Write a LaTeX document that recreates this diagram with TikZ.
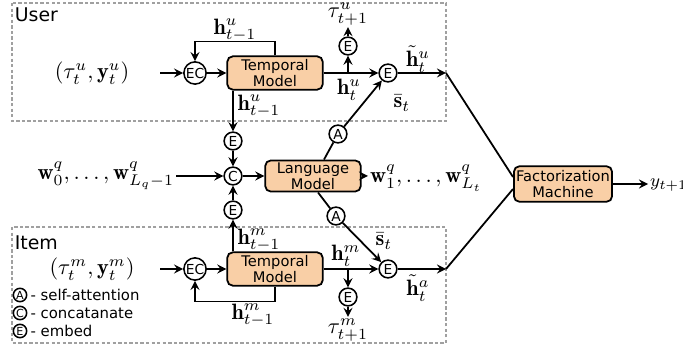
\documentclass[tikz,border=0pt]{standalone}
\usepackage{amsmath}
\usepackage{fontspec}
\setsansfont{DejaVu Sans}
\usepackage{tikz}
\usetikzlibrary{
    positioning,
    arrows.meta,
    calc
}
\definecolor{modelFill}{RGB}{249, 207, 166}
\definecolor{frameGray}{RGB}{160, 160, 160}

\begin{document}
\begin{tikzpicture}[x=0.45pt, y=-0.45pt, >=stealth, line width=0.8pt,
    model/.style={draw, rounded corners=2.5pt, fill=modelFill, align=center,
        font=\sffamily\fontsize{6.6}{7}\selectfont, inner sep=1pt,
        minimum width=43pt, minimum height=15pt},
    op/.style={draw, circle, line width=0.7pt, inner sep=0pt, minimum size=8pt,
        font=\sffamily\fontsize{6.2}{6.5}\selectfont},
    legop/.style={op, minimum size=6pt, font=\sffamily\fontsize{5}{5}\selectfont},
    legtext/.style={inner sep=0pt, font=\sffamily\fontsize{6.7}{7}\selectfont},
    lbl/.style={inner sep=0.5pt},
    region/.style={draw=frameGray, dash pattern=on 1.5pt off 1pt, line width=0.6pt}]
                \useasboundingbox (0,0) rectangle (683,349);
                
                % 枠 (User / Item)
                \draw[region] (12,3) rectangle (446,121);
                \draw[region] (12,227) rectangle (446,343);
                \node[anchor=west, inner sep=0pt, font=\sffamily\fontsize{8.5}{9}\selectfont] (userT) at (14,15) {User};
                \node[anchor=west, inner sep=0pt, font=\sffamily\fontsize{8.5}{9}\selectfont] (itemT) at (14,243) {Item};
                
                % User側
                \node[lbl] (inU) at (92,73) {$(\tau_t^u, \mathbf{y}_t^u)$};
                \coordinate (inUe) at (160,73);
                \node[op, minimum size=10pt] (ecU) at (195,73) {EC};
                \node[model] (tmU) at (275,73) {Temporal\\Model};
                \node[op] (ebU1) at (233,141) {E};
                \node[op] (ebU2) at (388,73) {E};
                \node[op] (ebU3) at (348,46) {E};
                \coordinate (brU) at (348,73);
                \coordinate (fu) at (446,73);
                \node[lbl] (tauU) at (348,14) {$\tau_{t+1}^u$};
                
                % 中央 (Language Model)
                \node[lbl, anchor=east] (inQ) at (176,176) {$\mathbf{w}_0^q, \ldots, \mathbf{w}_{L_q-1}^q$};
                \node[op] (cc) at (233,176) {C};
                \node[model, minimum height=14pt] (lm) at (313,176) {Language\\Model};
                \node[lbl, anchor=west] (outQ) at (368,178) {$\mathbf{w}_1^q, \ldots, \mathbf{w}_{L_t}^q$};
                \node[op] (atU) at (338,134) {A};
                \node[op] (atI) at (336,216) {A};
                \node[model, minimum width=44pt, minimum height=16pt] (fm) at (563,184) {Factorization\\Machine};
                \node[lbl, anchor=west, font=\fontsize{8.5}{9}\selectfont] (yout) at (648,185) {$y_{t+1}$};
                
                % Item側
                \node[lbl] (inI) at (92,269) {$(\tau_t^m, \mathbf{y}_t^m)$};
                \coordinate (inIe) at (160,269);
                \node[op, minimum size=10pt] (ecI) at (195,269) {EC};
                \node[model] (tmI) at (275,269) {Temporal\\Model};
                \node[op] (ebI1) at (233,210) {E};
                \node[op] (ebI2) at (388,269) {E};
                \node[op] (ebI3) at (348,297) {E};
                \coordinate (brI) at (348,269);
                \coordinate (fi) at (446,269);
                \node[lbl] (tauI) at (348,330) {$\tau_{t+1}^m$};
                
                % 矢印 (User)
                \draw[->] (inUe) -- (ecU);
                \draw[->] (ecU) -- (tmU);
                \draw[->] (tmU.north) -- ++(0,-14) -| (ecU.north);
                \draw[->] (tmU.south -| ebU1) -- (ebU1);
                \draw[->] (tmU) -- (ebU2);
                \draw[->] (brU) -- (ebU3);
                \draw[->] (ebU3) -- (tauU);
                \draw[->] (ebU2) -- (fu);
                \draw (fu) -- ($(fm.west)+(0,-7)$);
                
                % 矢印 (中央)
                \draw[->] (ebU1) -- (cc);
                \draw[->] (ebI1) -- (cc);
                \draw[->] (inQ.east |- cc) -- (cc);
                \draw[->] (cc) -- (lm);
                \draw[->] (lm.east) -- (outQ.west |- lm);
                \draw ($(lm.north)+(11,0)$) -- (atU);
                \draw[->] (atU) -- (ebU2);
                \draw ($(lm.south)+(5,0)$) -- (atI);
                \draw[->] (atI) -- (ebI2);
                \draw[->] (fm.east) -- (yout.west |- fm);
                
                % 矢印 (Item)
                \draw[->] (inIe) -- (ecI);
                \draw[->] (ecI) -- (tmI);
                \draw[->] (tmI.south) -- ++(0,15) -| (ecI.south);
                \draw[->] (tmI.north -| ebI1) -- (ebI1);
                \draw[->] (tmI) -- (ebI2);
                \draw[->] (brI) -- (ebI3);
                \draw[->] (ebI3) -- (tauI);
                \draw[->] (ebI2) -- (fi);
                \draw (fi) -- ($(fm.west)+(0,5)$);
                
                % ラベル
                \node[lbl] (hUloop) at (235,30) {$\mathbf{h}_{t-1}^u$};
                \node[lbl] (hUdown) at (259,106) {$\mathbf{h}_{t-1}^u$};
                \node[lbl] (hUt) at (349,90) {$\mathbf{h}_t^u$};
                \node[lbl] (hUtil) at (418,59) {$\tilde{\mathbf{h}}_t^u$};
                \node[lbl] (sU) at (402,103) {$\bar{\mathbf{s}}_t$};
                \node[lbl] (hIup) at (259,240) {$\mathbf{h}_{t-1}^m$};
                \node[lbl] (hIloop) at (253,315) {$\mathbf{h}_{t-1}^m$};
                \node[lbl] (hIt) at (346,256) {$\mathbf{h}_t^m$};
                \node[lbl] (hItil) at (418,288) {$\tilde{\mathbf{h}}_t^a$};
                \node[lbl] (sI) at (384,241) {$\bar{\mathbf{s}}_t$};
                
                % 凡例
                \node[legop] (legA) at (20,295) {A};
                \node[legop] (legC) at (20,313) {C};
                \node[legop] (legE) at (20,331) {E};
                \node[legtext, right=1pt of legA] (legAt) {- self-attention};
                \node[legtext, right=1pt of legC] (legCt) {- concatanate};
                \node[legtext, right=1pt of legE] (legEt) {- embed};
            \end{tikzpicture}
\end{document}
